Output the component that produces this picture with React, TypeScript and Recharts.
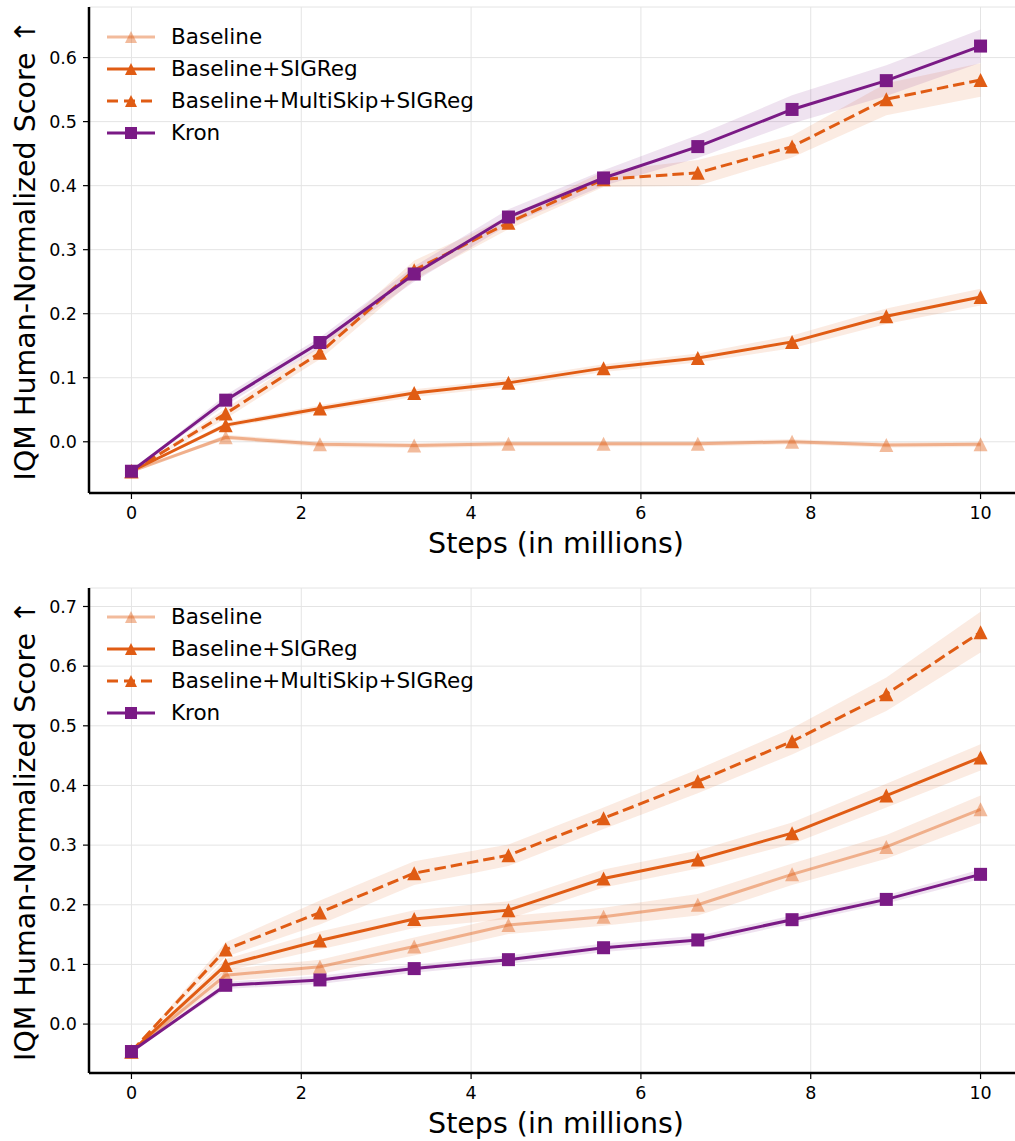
import {
  Area,
  CartesianGrid,
  ComposedChart,
  Label,
  Legend,
  Line,
  XAxis,
  YAxis,
} from "recharts"

const STEPS = [0, 1.11, 2.22, 3.33, 4.44, 5.56, 6.67, 7.78, 8.89, 10]
const X_TICKS = [0, 2, 4, 6, 8, 10]

// top panel
const TOP_BASELINE = [-0.046, 0.007, -0.004, -0.006, -0.003, -0.003, -0.003, 0.0, -0.005, -0.004]
const TOP_BASELINE_ERR = [0, 0.004, 0.004, 0.004, 0.004, 0.004, 0.004, 0.004, 0.004, 0.004]
const TOP_SIGREG = [-0.046, 0.026, 0.052, 0.076, 0.092, 0.115, 0.131, 0.156, 0.196, 0.226]
const TOP_SIGREG_ERR = [0, 0.004, 0.005, 0.006, 0.006, 0.006, 0.007, 0.01, 0.012, 0.013]
const TOP_MULTISKIP = [-0.046, 0.044, 0.139, 0.268, 0.342, 0.41, 0.42, 0.461, 0.535, 0.565]
const TOP_MULTISKIP_ERR = [0, 0.008, 0.01, 0.015, 0.01, 0.012, 0.02, 0.017, 0.025, 0.026]
const TOP_KRON = [-0.046, 0.065, 0.155, 0.262, 0.351, 0.412, 0.461, 0.519, 0.564, 0.618]
const TOP_KRON_ERR = [0, 0.008, 0.008, 0.012, 0.012, 0.012, 0.018, 0.022, 0.024, 0.026]
const TOP_Y_TICKS = [0, 0.1, 0.2, 0.3, 0.4, 0.5, 0.6]

// bottom panel
const BOT_BASELINE = [-0.046, 0.082, 0.096, 0.13, 0.166, 0.18, 0.2, 0.251, 0.297, 0.36]
const BOT_BASELINE_ERR = [0, 0.01, 0.012, 0.015, 0.015, 0.015, 0.018, 0.018, 0.02, 0.023]
const BOT_SIGREG = [-0.046, 0.099, 0.14, 0.176, 0.191, 0.244, 0.276, 0.32, 0.383, 0.447]
const BOT_SIGREG_ERR = [0, 0.01, 0.015, 0.015, 0.015, 0.015, 0.015, 0.018, 0.02, 0.022]
const BOT_MULTISKIP = [-0.046, 0.125, 0.187, 0.253, 0.283, 0.345, 0.407, 0.474, 0.553, 0.657]
const BOT_MULTISKIP_ERR = [0, 0.012, 0.02, 0.02, 0.018, 0.018, 0.02, 0.022, 0.028, 0.034]
const BOT_KRON = [-0.046, 0.065, 0.074, 0.093, 0.108, 0.128, 0.141, 0.175, 0.209, 0.251]
const BOT_KRON_ERR = [0, 0.006, 0.007, 0.007, 0.007, 0.007, 0.007, 0.007, 0.007, 0.008]
const BOT_Y_TICKS = [0, 0.1, 0.2, 0.3, 0.4, 0.5, 0.6, 0.7]

const ORANGE = "#e05c14"
const PURPLE = "#7a1a85"
const FONT = "'DejaVu Sans', Verdana, sans-serif"

type SeriesKey = "baseline" | "sigreg" | "multiskip" | "kron"

const SERIES: {
  key: SeriesKey
  name: string
  color: string
  opacity: number
  dash?: string
  marker: "tri" | "sq"
}[] = [
  { key: "baseline", name: "Baseline", color: ORANGE, opacity: 0.42, marker: "tri" },
  { key: "sigreg", name: "Baseline+SIGReg", color: ORANGE, opacity: 1, marker: "tri" },
  { key: "multiskip", name: "Baseline+MultiSkip+SIGReg", color: ORANGE, opacity: 1, dash: "11.5 5", marker: "tri" },
  { key: "kron", name: "Kron", color: PURPLE, opacity: 1, marker: "sq" },
]

function buildRows(vals: Record<SeriesKey, number[]>, errs: Record<SeriesKey, number[]>) {
  return STEPS.map((step, i) => {
    const row: Record<string, number | number[]> = { step }
    for (const s of SERIES) {
      const v = vals[s.key][i]
      const e = errs[s.key][i]
      row[s.key] = v
      row[s.key + "Band"] = [v - e, v + e]
    }
    return row
  })
}

const topRows = buildRows(
  { baseline: TOP_BASELINE, sigreg: TOP_SIGREG, multiskip: TOP_MULTISKIP, kron: TOP_KRON },
  { baseline: TOP_BASELINE_ERR, sigreg: TOP_SIGREG_ERR, multiskip: TOP_MULTISKIP_ERR, kron: TOP_KRON_ERR },
)
const botRows = buildRows(
  { baseline: BOT_BASELINE, sigreg: BOT_SIGREG, multiskip: BOT_MULTISKIP, kron: BOT_KRON },
  { baseline: BOT_BASELINE_ERR, sigreg: BOT_SIGREG_ERR, multiskip: BOT_MULTISKIP_ERR, kron: BOT_KRON_ERR },
)

function Marker({ cx, cy, shape, color, opacity, size }: {
  cx?: number
  cy?: number
  shape: "tri" | "sq"
  color: string
  opacity: number
  size: number
}) {
  if (cx == null || cy == null) return null
  const r = size / 2
  if (shape === "sq") {
    return <rect x={cx - r} y={cy - r} width={size} height={size} fill={color} fillOpacity={opacity} />
  }
  return (
    <polygon
      points={`${cx},${cy - r} ${cx + r},${cy + r} ${cx - r},${cy + r}`}
      fill={color}
      fillOpacity={opacity}
    />
  )
}

function LegendBox() {
  return (
    <div style={{ fontFamily: FONT, fontSize: 21.5, color: "#000" }}>
      {SERIES.map((s) => (
        <div key={s.key} style={{ display: "flex", alignItems: "center", height: 32 }}>
          <svg width={48} height={20} style={{ marginRight: 16 }}>
            <line
              x1={0}
              x2={48}
              y1={10}
              y2={10}
              stroke={s.color}
              strokeOpacity={s.opacity}
              strokeWidth={3}
              strokeDasharray={s.dash ? "11 6" : undefined}
            />
            <Marker cx={24} cy={10} shape={s.marker} color={s.color} opacity={s.opacity} size={12} />
          </svg>
          <span style={{ lineHeight: "32px", whiteSpace: "nowrap" }}>{s.name}</span>
        </div>
      ))}
    </div>
  )
}

function Panel({ rows, yDomain, yTicks, top }: {
  rows: Record<string, number | number[]>[]
  yDomain: [number, number]
  yTicks: number[]
  top: number
}) {
  const axisStyle = { stroke: "#000", strokeWidth: 2.5 }
  const tickLine = { stroke: "#000", strokeWidth: 1.2 }
  return (
    <div style={{ position: "absolute", left: 0, top }}>
      <ComposedChart
        width={1040}
        height={560}
        data={rows}
        margin={{ top: top === 0 ? 7 : 8, right: 17, bottom: 7, left: 0 }}
      >
        <CartesianGrid stroke="#e4e4e4" strokeWidth={1} />
        <XAxis
          dataKey="step"
          type="number"
          domain={[-0.5, 10.5]}
          ticks={X_TICKS}
          allowDataOverflow
          height={60}
          axisLine={axisStyle}
          tickLine={tickLine}
          tickSize={6}
          tickMargin={8}
          tick={{ fontSize: 17.5, fill: "#000", fontFamily: FONT }}
        >
          <Label
            content={(props: any) => {
              const vb = props.viewBox
              return (
                <text
                  x={vb.x + vb.width / 2}
                  y={vb.y + 60}
                  textAnchor="middle"
                  fontSize={28.5}
                  fontFamily={FONT}
                  fill="#000"
                >
                  Steps (in millions)
                </text>
              )
            }}
          />
        </XAxis>
        <YAxis
          type="number"
          domain={yDomain}
          ticks={yTicks}
          allowDataOverflow
          width={89}
          axisLine={axisStyle}
          tickLine={tickLine}
          tickSize={6}
          tickMargin={6}
          tickFormatter={(v: number) => v.toFixed(1)}
          tick={{ fontSize: 17.5, fill: "#000", fontFamily: FONT }}
        >
          <Label
            content={(props: any) => {
              const vb = props.viewBox
              const cx = vb.x + 25
              const cy = vb.y + vb.height / 2
              return (
                <text
                  x={cx}
                  y={cy}
                  transform={`rotate(-90, ${cx}, ${cy})`}
                  textAnchor="middle"
                  dominantBaseline="central"
                  fontSize={28.5}
                  fontFamily={FONT}
                  fill="#000"
                >
                  IQM Human-Normalized Score ↑
                </text>
              )
            }}
          />
        </YAxis>
        {SERIES.map((s) => (
          <Area
            key={s.key + "Band"}
            dataKey={s.key + "Band"}
            type="linear"
            stroke="none"
            fill={s.color}
            fillOpacity={0.12}
            dot={false}
            activeDot={false}
            legendType="none"
            isAnimationActive={false}
          />
        ))}
        {SERIES.map((s) => (
          <Line
            key={s.key}
            dataKey={s.key}
            name={s.name}
            type="linear"
            stroke={s.color}
            strokeOpacity={s.opacity}
            strokeWidth={3}
            strokeDasharray={s.dash}
            activeDot={false}
            isAnimationActive={false}
            dot={(p: any) => (
              <Marker
                key={p.index}
                cx={p.cx}
                cy={p.cy}
                shape={s.marker}
                color={s.color}
                opacity={s.opacity}
                size={s.marker === "sq" ? 13 : 14}
              />
            )}
          />
        ))}
        <Legend
          layout="vertical"
          align="center"
          verticalAlign="middle"
          content={() => <LegendBox />}
          wrapperStyle={{ left: 107, top: 21, width: "auto", height: "auto" }}
        />
      </ComposedChart>
    </div>
  )
}

export default function App() {
  return (
    <div
      style={{
        position: "absolute",
        left: 0,
        top: 0,
        width: 1015,
        height: 1141,
        overflow: "hidden",
        background: "#fff",
        fontFamily: FONT,
      }}
    >
      <Panel rows={topRows} yDomain={[-0.08, 0.679]} yTicks={TOP_Y_TICKS} top={0} />
      <Panel rows={botRows} yDomain={[-0.082, 0.731]} yTicks={BOT_Y_TICKS} top={580} />
    </div>
  )
}
